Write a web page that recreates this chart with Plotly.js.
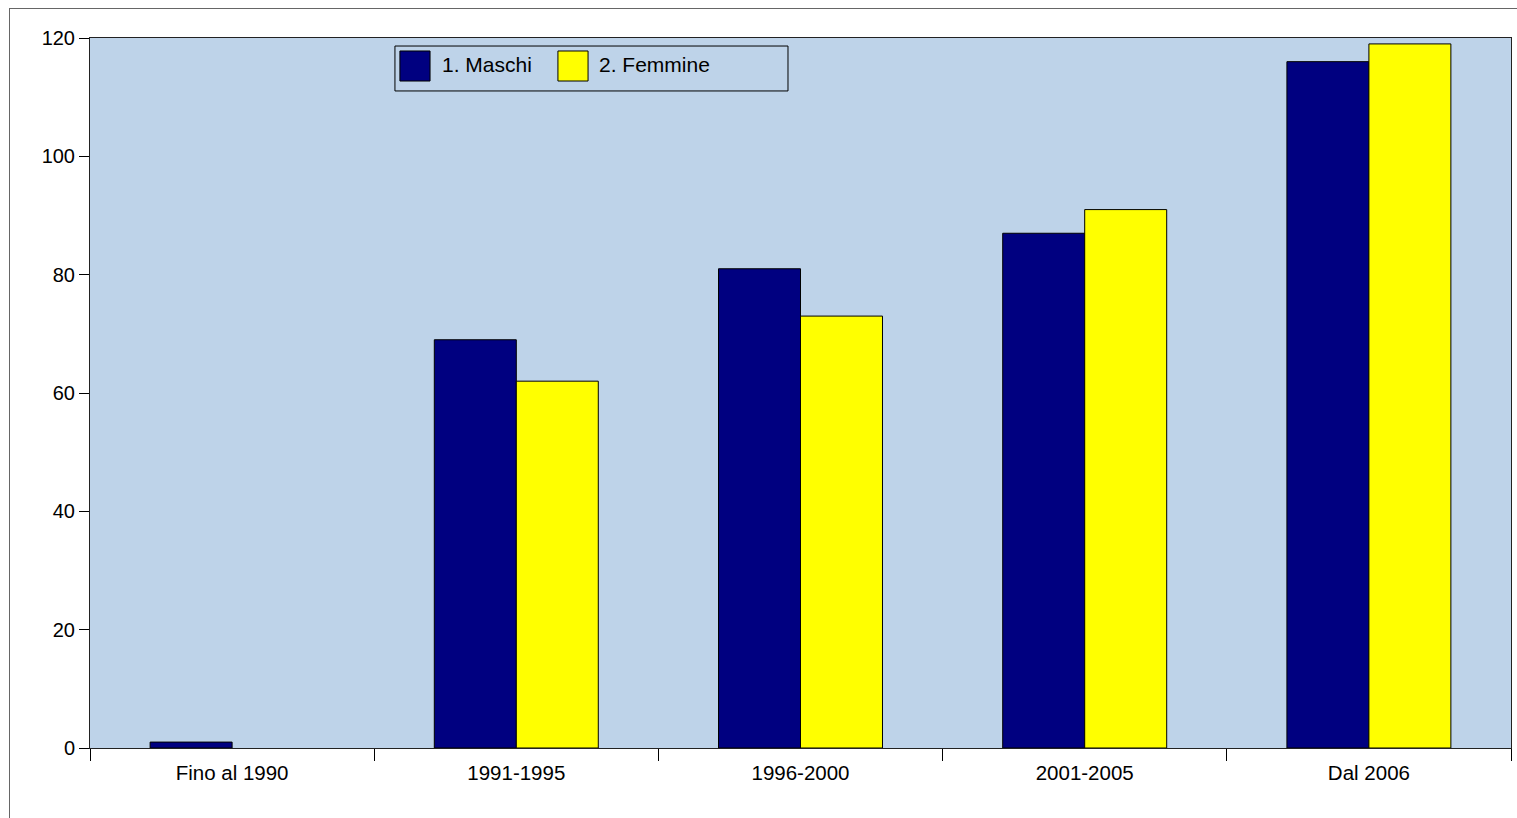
<!DOCTYPE html>
<html>
<head>
<meta charset="utf-8">
<script src="https://cdn.plot.ly/plotly-3.0.1.min.js"></script>
<style>
  html, body { margin: 0; padding: 0; background: #fff; overflow: hidden; }
  #chart { position: absolute; left: 0; top: 0; width: 1517px; height: 818px; }
  #frame { position: absolute; left: 9px; top: 8px; width: 1510px; height: 812px;
           border-top: 1px solid #666; border-left: 1px solid #666; pointer-events: none; }
</style>
</head>
<body>
<div id="chart"></div>
<div id="frame"></div>
<script>
const categories = ["Fino al 1990", "1991-1995", "1996-2000", "2001-2005", "Dal 2006"];
const maschi = [1, 69, 81, 87, 116];
const femmine = [0, 62, 73, 91, 119];
const seriesNames = ["1. Maschi", "2. Femmine"];
const yTicks = [0, 20, 40, 60, 80, 100, 120];

const colMaschi = "#000080";
const colFemmine = "#ffff00";
const plotBg = "#bed3e9";
const fontFam = "Liberation Sans, Arial, sans-serif";

const outline = vals => vals.map(v => (v === 0 ? 0 : 1));

const traces = [
  { type: "bar", x: categories, y: maschi, name: seriesNames[0],
    marker: { color: colMaschi, line: { color: "#000", width: outline(maschi) } }, hoverinfo: "none" },
  { type: "bar", x: categories, y: femmine, name: seriesNames[1],
    marker: { color: colFemmine, line: { color: "#000", width: outline(femmine) } }, hoverinfo: "none" }
];

const layout = {
  width: 1517, height: 818,
  margin: { l: 90, r: 6, t: 38, b: 70 },
  paper_bgcolor: "rgba(0,0,0,0)",
  plot_bgcolor: plotBg,
  showlegend: false,
  barmode: "group",
  bargap: 0.423,
  bargroupgap: 0,
  font: { family: fontFam, color: "#000", size: 20 },
  xaxis: {
    type: "category",
    tickson: "boundaries",
    ticks: "outside", ticklen: 12, tickcolor: "#000", tickwidth: 1,
    ticklabelstandoff: 6,
    showline: true, linecolor: "#222", linewidth: 1, mirror: true,
    showgrid: false, zeroline: false,
    tickfont: { size: 20.5, family: fontFam, color: "#000" },
    fixedrange: true
  },
  yaxis: {
    range: [0, 120],
    tickvals: yTicks,
    ticktext: yTicks.map(String),
    ticks: "outside", ticklen: 10, tickcolor: "#000", tickwidth: 1,
    showline: true, linecolor: "#222", linewidth: 1, mirror: true,
    showgrid: false, zeroline: false,
    tickfont: { size: 20, family: fontFam, color: "#000" },
    fixedrange: true
  },
  shapes: [
    { type: "rect", xref: "paper", yref: "paper", x0: 0.2146, x1: 0.4912, y0: 0.9254, y1: 0.9887,
      line: { color: "#000", width: 1 }, fillcolor: plotBg },
    { type: "rect", xref: "paper", yref: "paper", x0: 0.2181, x1: 0.2393, y0: 0.9394, y1: 0.9817,
      line: { color: "#000", width: 1 }, fillcolor: colMaschi },
    { type: "rect", xref: "paper", yref: "paper", x0: 0.3293, x1: 0.3505, y0: 0.9394, y1: 0.9817,
      line: { color: "#000", width: 1 }, fillcolor: colFemmine }
  ],
  annotations: [
    { xref: "paper", yref: "paper", x: 0.2463, y: 0.962, text: seriesNames[0], showarrow: false,
      xanchor: "left", yanchor: "middle", font: { size: 21, family: fontFam, color: "#000" } },
    { xref: "paper", yref: "paper", x: 0.3568, y: 0.962, text: seriesNames[1], showarrow: false,
      xanchor: "left", yanchor: "middle", font: { size: 21, family: fontFam, color: "#000" } }
  ]
};

Plotly.newPlot("chart", traces, layout, { displayModeBar: false, staticPlot: true });
</script>
</body>
</html>
